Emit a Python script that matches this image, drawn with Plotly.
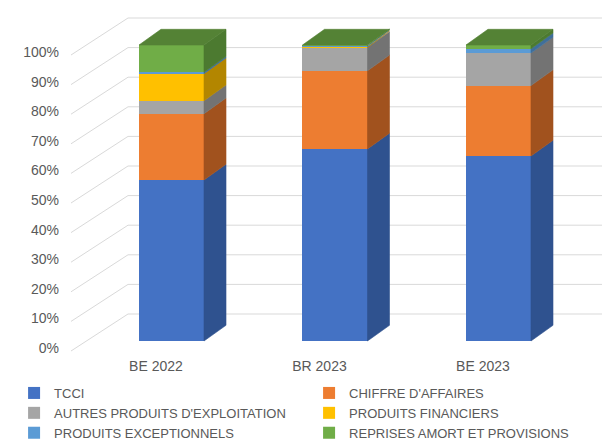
import plotly.graph_objects as go

categories = ["BE 2022", "BR 2023", "BE 2023"]
series_names = ["TCCI", "CHIFFRE D'AFFAIRES", "AUTRES PRODUITS D'EXPLOITATION",
                "PRODUITS FINANCIERS", "PRODUITS EXCEPTIONNELS", "REPRISES AMORT ET PROVISIONS"]
tcci = [54.4, 64.9, 62.5]
chiffre = [22.4, 26.4, 23.8]
autres = [4.4, 7.9, 11.0]
financiers = [9.1, 0.3, 0.0]
exceptionnels = [0.5, 0.3, 1.45]
reprises = [9.2, 0.2, 1.25]
y_ticks = [0, 10, 20, 30, 40, 50, 60, 70, 80, 90, 100]

series_values = [tcci, chiffre, autres, financiers, exceptionnels, reprises]
front_colors = ["#4472C4", "#ED7D31", "#A5A5A5", "#FFC000", "#5B9BD5", "#70AD47"]
side_colors = ["#2F528F", "#A1521E", "#737373", "#B38600", "#3F6F9A", "#4C7A30"]
top_color = "#548235"

# geometry (style constants, in axis units)
BAR_W = 0.3976
DEP_X = 0.1346
DEP_Y = 5.3
WALL_X0 = -0.6147
WALL_X1 = -0.266
WALL_DY0 = -3.38
WALL_DY1 = 9.12
X_MIN, X_MAX = -0.682, 2.731
Y_MIN, Y_MAX = -5.07, 112.5

xpos = list(range(len(categories)))
fig = go.Figure()

# front faces
for name, vals, col in zip(series_names, series_values, front_colors):
    fig.add_trace(go.Bar(x=xpos, y=vals, name=name, width=BAR_W,
                         marker=dict(color=col, line=dict(width=0)),
                         hoverinfo="skip"))

# side faces
bases = [0.0] * len(categories)
for vals, scol in zip(series_values, side_colors):
    xs, ys = [], []
    for i, v in enumerate(vals):
        b = bases[i]
        t = b + v
        if v > 0:
            xr = xpos[i] + BAR_W / 2
            xs += [xr, xr + DEP_X, xr + DEP_X, xr, xr, None]
            ys += [b, b + DEP_Y, t + DEP_Y, t, b, None]
        bases[i] = t
    fig.add_trace(go.Scatter(x=xs, y=ys, mode="lines", fill="toself",
                             fillcolor=scol, line=dict(width=0.6, color=scol),
                             showlegend=False, hoverinfo="skip"))

# top faces
xs, ys = [], []
for i, tot in enumerate(bases):
    xl = xpos[i] - BAR_W / 2
    xr = xpos[i] + BAR_W / 2
    xs += [xl, xr, xr + DEP_X, xl + DEP_X, xl, None]
    ys += [tot, tot, tot + DEP_Y, tot + DEP_Y, tot, None]
fig.add_trace(go.Scatter(x=xs, y=ys, mode="lines", fill="toself",
                         fillcolor=top_color, line=dict(width=0.6, color=top_color),
                         showlegend=False, hoverinfo="skip"))

# walls gridlines
shapes = []
for v in y_ticks:
    shapes.append(dict(type="line", xref="x", yref="y", layer="below",
                       x0=WALL_X0, y0=v + WALL_DY0, x1=WALL_X1, y1=v + WALL_DY1,
                       line=dict(color="#D9D9D9", width=1)))
    shapes.append(dict(type="line", xref="x", yref="y", layer="below",
                       x0=WALL_X1, y0=v + WALL_DY1, x1=X_MAX, y1=v + WALL_DY1,
                       line=dict(color="#D9D9D9", width=1)))

font_family = "Liberation Sans"
fig.update_layout(
    width=610, height=443,
    margin=dict(l=52, r=0, t=0, b=95, autoexpand=False),
    paper_bgcolor="white", plot_bgcolor="white",
    barmode="stack",
    shapes=shapes,
    font=dict(family=font_family, size=14, color="#595959"),
    showlegend=True,
    legend=dict(orientation="h", x=-0.0823, xanchor="left", y=-0.0632, yanchor="top",
                entrywidth=250, traceorder="normal",
                font=dict(family=font_family, size=13, color="#595959"),
                itemclick=False, itemdoubleclick=False),
    xaxis=dict(range=[X_MIN, X_MAX], showgrid=False, zeroline=False, showline=False,
               tickmode="array", tickvals=[p - 0.095 for p in xpos], ticktext=categories,
               ticks="", automargin=False, fixedrange=True),
    yaxis=dict(range=[Y_MIN, Y_MAX], showgrid=False, zeroline=False, showline=False,
               tickmode="array", tickvals=y_ticks, ticktext=[f"{v}%" for v in y_ticks],
               ticks="", ticklabelshift=7, automargin=False, fixedrange=True),
)

fig.write_html("out.html")
